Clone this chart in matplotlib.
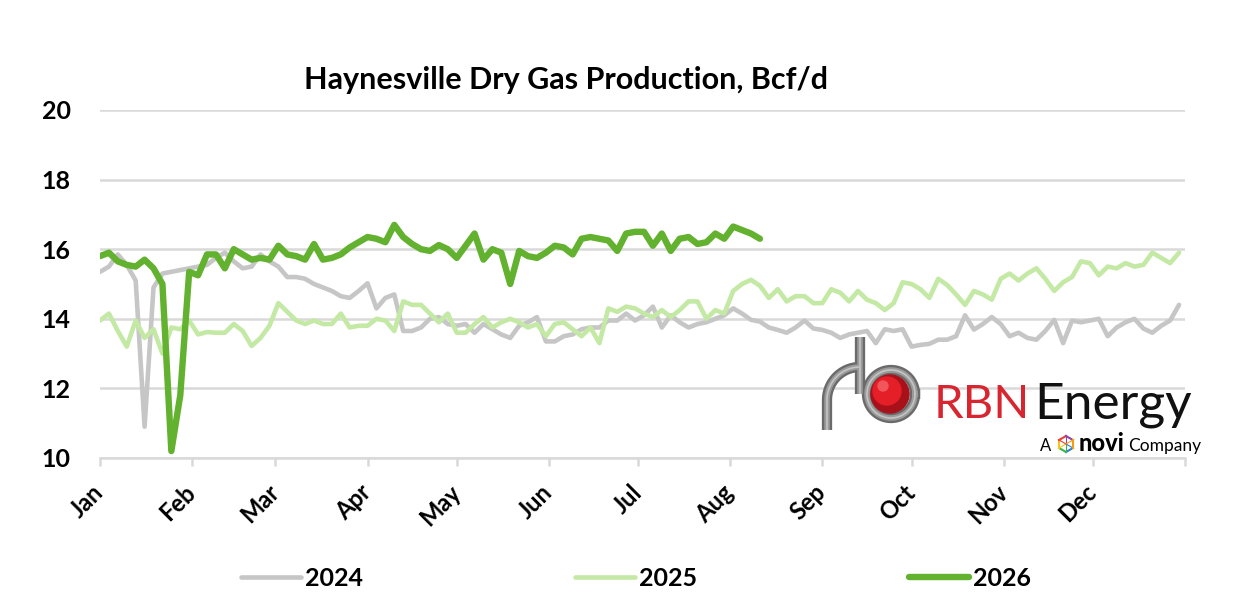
import numpy as np
import matplotlib.pyplot as plt

# daily series sampled every 3 days (day of year 0, 3, 6, ...)
step_days = 3
prod_2024 = [15.35, 15.5, 15.85, 15.55, 15.1, 10.9, 14.9, 15.3, 15.35, 15.4,
             15.45, 15.5, 15.55, 15.75, 15.9, 15.65, 15.45, 15.5, 15.85, 15.65,
             15.5, 15.2, 15.2, 15.15, 15.0, 14.9, 14.8, 14.65, 14.6, 14.8,
             15.02, 14.3, 14.6, 14.7, 13.65, 13.65, 13.75, 14.0, 14.05, 13.85,
             13.8, 13.85, 13.6, 13.85, 13.7, 13.55, 13.45, 13.8, 13.9, 14.05,
             13.35, 13.35, 13.5, 13.55, 13.7, 13.75, 13.75, 13.95, 13.95, 14.15,
             13.95, 14.1, 14.35, 13.75, 14.1, 13.9, 13.75, 13.85, 13.9, 14.0,
             14.1, 14.3, 14.15, 13.97, 13.92, 13.75, 13.68, 13.6, 13.75, 13.95,
             13.72, 13.68, 13.6, 13.45, 13.55, 13.6, 13.65, 13.3, 13.7, 13.65,
             13.7, 13.2, 13.25, 13.28, 13.4, 13.4, 13.5, 14.1, 13.69, 13.85,
             14.05, 13.85, 13.5, 13.6, 13.45, 13.4, 13.65, 13.97, 13.3, 13.95,
             13.9, 13.95, 14.0, 13.5, 13.75, 13.9, 14.0, 13.72, 13.6, 13.8,
             13.95, 14.4]
prod_2025 = [13.95, 14.15, 13.65, 13.2, 13.95, 13.45, 13.7, 13.0, 13.75, 13.7,
             13.95, 13.55, 13.62, 13.6, 13.6, 13.85, 13.65, 13.22, 13.45, 13.8,
             14.45, 14.2, 13.95, 13.85, 13.95, 13.85, 13.85, 14.15, 13.75, 13.8,
             13.8, 14.0, 13.95, 13.65, 14.5, 14.4, 14.4, 14.15, 13.9, 14.15,
             13.6, 13.6, 13.85, 14.05, 13.75, 13.9, 14.0, 13.9, 13.75, 13.85,
             13.5, 13.85, 13.9, 13.7, 13.5, 13.75, 13.3, 14.3, 14.2, 14.35,
             14.3, 14.15, 14.05, 14.25, 14.05, 14.25, 14.5, 14.5, 14.0, 14.25,
             14.15, 14.8, 15.0, 15.12, 14.95, 14.6, 14.85, 14.5, 14.65, 14.65,
             14.45, 14.45, 14.85, 14.75, 14.5, 14.8, 14.55, 14.45, 14.25, 14.45,
             15.05, 15.0, 14.85, 14.6, 15.15, 14.97, 14.7, 14.4, 14.8, 14.7,
             14.55, 15.15, 15.3, 15.1, 15.3, 15.45, 15.15, 14.8, 15.05, 15.2,
             15.65, 15.6, 15.25, 15.5, 15.45, 15.6, 15.5, 15.55, 15.9, 15.75,
             15.6, 15.9]
prod_2026 = [15.8, 15.9, 15.65, 15.55, 15.5, 15.7, 15.45, 15.0, 10.2, 11.8,
             15.35, 15.25, 15.85, 15.85, 15.45, 16.0, 15.85, 15.7, 15.75, 15.7,
             16.1, 15.85, 15.8, 15.7, 16.15, 15.7, 15.75, 15.85, 16.05, 16.2,
             16.35, 16.3, 16.2, 16.7, 16.35, 16.15, 16.0, 15.95, 16.12, 16.0,
             15.75, 16.1, 16.45, 15.7, 16.0, 15.9, 15.0, 15.95, 15.8, 15.75,
             15.9, 16.1, 16.05, 15.85, 16.3, 16.35, 16.3, 16.25, 15.95, 16.45,
             16.5, 16.5, 16.1, 16.45, 15.95, 16.3, 16.35, 16.15, 16.2, 16.45,
             16.3, 16.65, 16.55, 16.45, 16.3]

years = ['2024', '2025', '2026']
colors = ['#c6c6c6', '#c3e9a4', '#62b12f']
widths = [3.3, 3.3, 4.6]
month_names = ['Jan', 'Feb', 'Mar', 'Apr', 'May', 'Jun',
               'Jul', 'Aug', 'Sep', 'Oct', 'Nov', 'Dec']
month_start = [0, 31, 59, 90, 120, 151, 181, 212, 243, 273, 304, 334]
y_ticks = [10, 12, 14, 16, 18, 20]

fig = plt.figure(figsize=(12.43, 6.12), dpi=100)
ax = fig.add_axes([100 / 1243, 1 - 458 / 612, 1085 / 1243, 348 / 612])

for name, vals, c, lw in zip(years, [prod_2024, prod_2025, prod_2026], colors, widths):
    d = np.arange(len(vals)) * step_days
    ax.plot(d, vals, color=c, lw=lw, label=name, solid_joinstyle='round',
            solid_capstyle='round')

ax.set_xlim(0, 365)
ax.set_ylim(10, 20)
ax.set_yticks(y_ticks)
ax.set_yticklabels([str(v) for v in y_ticks], fontsize=18, fontweight='bold',
                   family='Lato')
ax.tick_params(axis='y', length=0, pad=21)
ax.grid(axis='y', color='#d9d9d9', lw=1.8)
ax.set_axisbelow(True)
for s in ['left', 'right', 'top']:
    ax.spines[s].set_visible(False)
ax.spines['bottom'].set_color('#d9d9d9')
ax.spines['bottom'].set_linewidth(1.8)
ax.set_xticks(month_start + [365])
ax.set_xticklabels(month_names + [''], rotation=45, ha='right', va='center',
                   rotation_mode='anchor', fontsize=17, fontweight='bold',
                   family='Lato')
ax.tick_params(axis='x', length=6, width=1.8, color='#d9d9d9', pad=16)

fig.text(566 / 1243, 1 - 80 / 612, 'Haynesville Dry Gas Production, Bcf/d',
         ha='center', va='center', fontsize=22, fontweight='bold', family='Lato')

leg = fig.legend(loc='center', bbox_to_anchor=(636 / 1243, 1 - 578 / 612), ncol=3,
                 frameon=False, handlelength=2.4, handletextpad=0.15,
                 columnspacing=8.5, prop={'family': 'Lato', 'weight': 'bold', 'size': 18})

# RBN Energy logo, drawn in pixel space
lg = fig.add_axes([0, 0, 1, 1])
lg.set_xlim(0, 1243)
lg.set_ylim(612, 0)
lg.axis('off')
t = np.linspace(0, np.pi / 2, 40)
rx = np.r_[827, 860 - 33 * np.cos(t)]
ry = np.r_[430, 400 - 33 * np.sin(t)]
ring = np.linspace(0, 2 * np.pi, 120)
for col, w in [('#6a6a6a', 7.4), ('#9a9a9a', 4.0), ('#c4c4c4', 1.2)]:
    lg.plot(rx, ry, color=col, lw=w, solid_capstyle='butt')
    lg.plot([860, 860], [337, 394], color=col, lw=w, solid_capstyle='butt')
    lg.plot(891 + 24 * np.cos(ring), 394 + 24 * np.sin(ring), color=col, lw=w)
lg.add_patch(plt.Circle((890, 394), 19, color='#a8111a', zorder=5))
lg.add_patch(plt.Circle((887, 391), 14, color='#e41f28', zorder=6))
lg.add_patch(plt.Circle((883, 386), 5, color='#f0565c', zorder=7))
lg.text(934, 418, 'RBN', color='#d7262f', fontsize=34, family='Lato',
        va='baseline', ha='left')
lg.text(1034, 418, 'Energy', color='#111111', fontsize=37, family='Lato',
        va='baseline', ha='left')
lg.text(1040, 451, 'A', fontsize=12, family='Lato', va='baseline', ha='left')
hx = 1066 + 8 * np.cos(np.linspace(0, 2 * np.pi, 7) + np.pi / 6)
hy = 444 + 8 * np.sin(np.linspace(0, 2 * np.pi, 7) + np.pi / 6)
for i, col in enumerate(['#2f7fd8', '#3bb54a', '#f6c31b', '#ee4035', '#8e44ad', '#f39c12']):
    lg.plot(hx[i:i + 2], hy[i:i + 2], color=col, lw=1.5)
    lg.plot([1066, hx[i]], [444, hy[i]], color=col, lw=0.8)
lg.text(1079, 451, 'novi', fontsize=17, family='Lato', fontweight='black',
        va='baseline', ha='left')
lg.text(1128, 451, 'Company', fontsize=12.5, family='Lato', va='baseline', ha='left')

fig.savefig('out.png', dpi=100)
